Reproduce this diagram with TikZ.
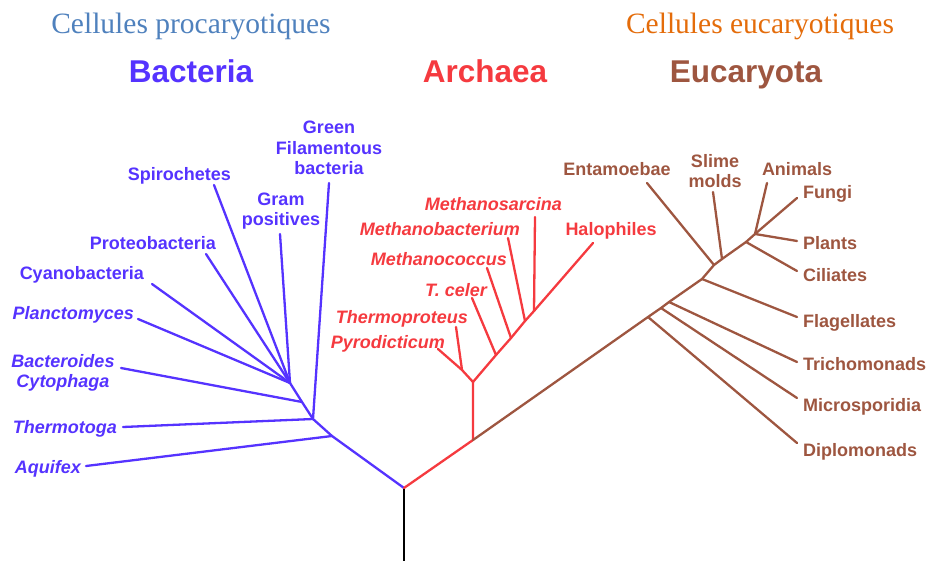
\documentclass[tikz,border=0pt]{standalone}
\usepackage{fontspec}
\setmainfont{Liberation Serif}
\newfontfamily\arialf{Liberation Sans}
\definecolor{bact}{HTML}{5533FF}
\definecolor{arch}{HTML}{F53A3F}
\definecolor{euk}{HTML}{9E5640}
\definecolor{prok}{HTML}{4F81BD}
\definecolor{eukt}{HTML}{E46C0A}
\begin{document}
\begin{tikzpicture}[x=1pt,y=-1pt,line cap=round,line join=round,
  br/.style={line width=2.3pt},
  lab/.style={inner sep=0pt,font=\arialf\fontsize{18}{20.5}\selectfont\bfseries},
  ilab/.style={lab,font=\arialf\fontsize{18}{20.5}\selectfont\bfseries\itshape},
  grp/.style={inner sep=0pt,anchor=base,font=\arialf\fontsize{31.5}{34}\selectfont\bfseries},
  cell/.style={inner sep=0pt,anchor=base,font=\fontsize{29.5}{32}\selectfont}]
\useasboundingbox (0,0) rectangle (933,561);
% titles
\node[cell,text=prok] (tprok) at (191,34) {Cellules procaryotiques};
\node[cell,text=eukt] (teuk) at (760,34) {Cellules eucaryotiques};
\node[grp,text=bact] (gbact) at (191,83) {Bacteria};
\node[grp,text=arch] (garch) at (485,83) {Archaea};
\node[grp,text=euk] (geuk) at (746,83) {Eucaryota};
% junctions
\coordinate (base) at (404,561);
\coordinate (root) at (404,488);
\coordinate (bD) at (332,436);
\coordinate (bC) at (313,419);
\coordinate (bB) at (302,402);
\coordinate (bA) at (290,383);
\coordinate (aR) at (473,440);
\coordinate (aT) at (473,382);
\coordinate (aP) at (462,370);
\coordinate (aH) at (593,243);
\coordinate (aTc) at (496,355);
\coordinate (aMc) at (511,338);
\coordinate (aMb) at (525,321);
\coordinate (aMs) at (534,311);
\coordinate (eDi) at (648,317);
\coordinate (eMi) at (661,308);
\coordinate (eTr) at (669,302);
\coordinate (eFl) at (702,279);
\coordinate (eEn) at (714,265);
\coordinate (eSl) at (722,259);
\coordinate (eCi) at (746,242);
\coordinate (eCr) at (755,234);
% branch tips
\coordinate (tAq) at (86,466);
\coordinate (tTh) at (123,427);
\coordinate (tGr) at (329,183);
\coordinate (tBa) at (121,368);
\coordinate (tPl) at (138,319);
\coordinate (tCy) at (152,284);
\coordinate (tPr) at (206,254);
\coordinate (tSp) at (214,185);
\coordinate (tGp) at (280,234);
\coordinate (tPy) at (438,349);
\coordinate (tTp) at (456,327);
\coordinate (tTc) at (472,298);
\coordinate (tMc) at (487,268);
\coordinate (tMb) at (508,238);
\coordinate (tMs) at (535,217);
\coordinate (tEn) at (647,183);
\coordinate (tSl) at (713,192);
\coordinate (tAn) at (767,183);
\coordinate (tFu) at (797,198);
\coordinate (tPla) at (797,241);
\coordinate (tCi) at (797,271);
\coordinate (tFl) at (797,317);
\coordinate (tTr) at (797,362);
\coordinate (tMi) at (797,398);
\coordinate (tDi) at (797,443);
% stem
\draw[br,black,line width=2pt] (base) -- (root);
% bacteria
\draw[br,bact] (root) -- (bD) -- (bC) -- (bB) -- (bA);
\draw[br,bact] (bD) -- (tAq);
\draw[br,bact] (bC) -- (tTh);
\draw[br,bact] (bC) -- (tGr);
\draw[br,bact] (bB) -- (tBa);
\draw[br,bact] (bA) -- (tPl);
\draw[br,bact] (bA) -- (tCy);
\draw[br,bact] (bA) -- (tPr);
\draw[br,bact] (bA) -- (tSp);
\draw[br,bact] (bA) -- (tGp);
% archaea
\draw[br,arch] (root) -- (aR) -- (aT) -- (aP);
\draw[br,arch] (aT) -- (aTc) -- (aMc) -- (aMb) -- (aMs) -- (aH);
\draw[br,arch] (aP) -- (tPy);
\draw[br,arch] (aP) -- (tTp);
\draw[br,arch] (aTc) -- (tTc);
\draw[br,arch] (aMc) -- (tMc);
\draw[br,arch] (aMb) -- (tMb);
\draw[br,arch] (aMs) -- (tMs);
% eukaryota
\draw[br,euk] (aR) -- (eDi) -- (eMi) -- (eTr) -- (eFl) -- (eEn) -- (eSl) -- (eCi) -- (eCr);
\draw[br,euk] (eDi) -- (tDi);
\draw[br,euk] (eMi) -- (tMi);
\draw[br,euk] (eTr) -- (tTr);
\draw[br,euk] (eFl) -- (tFl);
\draw[br,euk] (eEn) -- (tEn);
\draw[br,euk] (eSl) -- (tSl);
\draw[br,euk] (eCi) -- (tCi);
\draw[br,euk] (eCr) -- (tAn);
\draw[br,euk] (eCr) -- (tFu);
\draw[br,euk] (eCr) -- (tPla);
% bacteria labels
\node[lab,text=bact,align=center] (lGr) at (329,148) {Green\\Filamentous\\bacteria};
\node[lab,text=bact,anchor=base east] (lSp) at (231,181) {Spirochetes};
\node[lab,text=bact,align=center] (lGp) at (281,211) {Gram\\positives};
\node[lab,text=bact,anchor=base east] (lPr) at (216,249) {Proteobacteria};
\node[lab,text=bact,anchor=base east] (lCy) at (144,279) {Cyanobacteria};
\node[ilab,text=bact,anchor=base east] (lPl) at (134,319) {Planctomyces};
\node[ilab,text=bact,align=center] (lBa) at (63,373) {Bacteroides\\Cytophaga};
\node[ilab,text=bact,anchor=base east] (lTh) at (117,433) {Thermotoga};
\node[ilab,text=bact,anchor=base east] (lAq) at (81,473) {Aquifex};
% archaea labels
\node[ilab,text=arch,anchor=base east] (lMs) at (562,211) {Methanosarcina};
\node[ilab,text=arch,anchor=base east] (lMb) at (520,235) {Methanobacterium};
\node[ilab,text=arch,anchor=base east] (lMc) at (507,265) {Methanococcus};
\node[ilab,text=arch,anchor=base east] (lTc) at (487,296) {T. celer};
\node[ilab,text=arch,anchor=base east] (lTp) at (468,323) {Thermoproteus};
\node[ilab,text=arch,anchor=base east] (lPy) at (445,348) {Pyrodicticum};
\node[lab,text=arch,anchor=base] (lHa) at (611,235) {Halophiles};
% eukaryota labels
\node[lab,text=euk,anchor=base] (lEn) at (617,176) {Entamoebae};
\node[lab,text=euk,align=center] (lSl) at (715,171) {Slime\\molds};
\node[lab,text=euk,anchor=base] (lAn) at (797,176) {Animals};
\node[lab,text=euk,anchor=base west] (lFu) at (803,199) {Fungi};
\node[lab,text=euk,anchor=base west] (lPla) at (803,249) {Plants};
\node[lab,text=euk,anchor=base west] (lCi) at (803,281) {Ciliates};
\node[lab,text=euk,anchor=base west] (lFl) at (803,327) {Flagellates};
\node[lab,text=euk,anchor=base west] (lTr) at (803,370) {Trichomonads};
\node[lab,text=euk,anchor=base west] (lMi) at (803,411) {Microsporidia};
\node[lab,text=euk,anchor=base west] (lDi) at (803,456) {Diplomonads};
\end{tikzpicture}
\end{document}
